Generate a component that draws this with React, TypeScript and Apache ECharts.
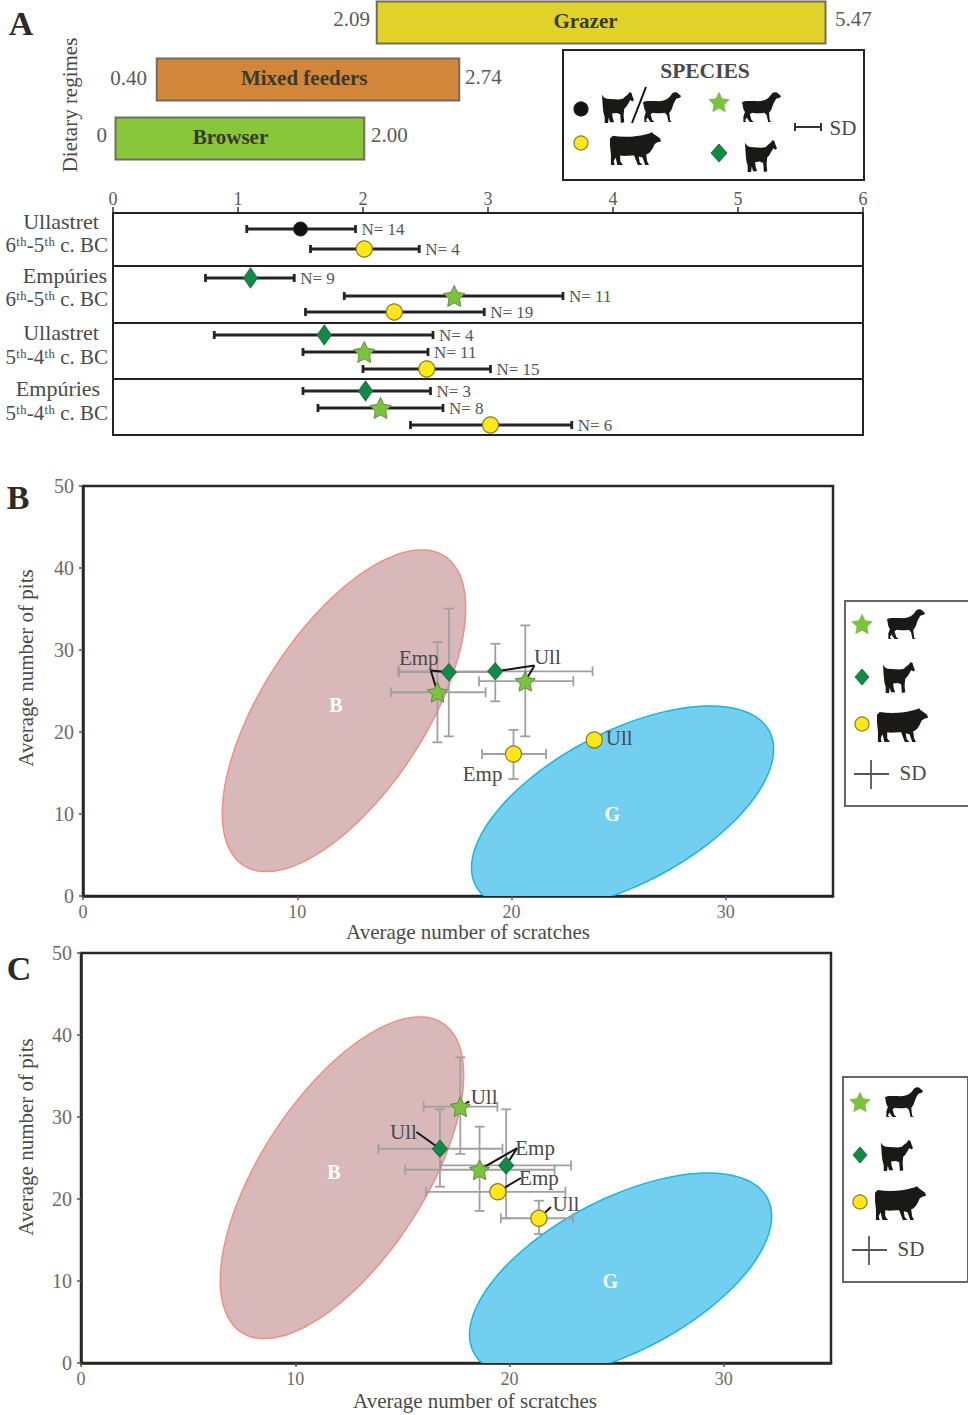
import React, { useEffect, useRef } from "react";
import * as echarts from "echarts";

const SERIF = '"Liberation Serif", "DejaVu Serif", serif';

// ---------- Panel A: dietary regimes ----------
const regimeNames = ["Grazer", "Mixed feeders", "Browser"];
const regimeStart = [2.11, 0.35, 0.02];
const regimeEnd = [5.70, 2.77, 2.01];
const regimeRow = [22.5, 79.5, 138.5];
const regimeNamePos = [3.78, 1.53, 0.94];
const regimeLowText = ["2.09", "0.40", "0"];
const regimeHighText = ["5.47", "2.74", "2.00"];
const regimeColors = ["#e0d228", "#d2863a", "#88c63a"];
const scoreTicks = [0, 1, 2, 3, 4, 5, 6];

// ---------- Panel A: per-site scores ----------
const aSpecies = ["pig", "cattle", "goat", "sheep", "cattle", "goat", "sheep", "cattle", "goat", "sheep", "cattle"];
const aMean = [1.50, 2.01, 1.10, 2.73, 2.25, 1.69, 2.01, 2.51, 2.02, 2.14, 3.02];
const aLow = [1.07, 1.58, 0.74, 1.85, 1.54, 0.81, 1.52, 2.00, 1.52, 1.64, 2.38];
const aHigh = [1.94, 2.45, 1.45, 3.60, 2.97, 2.56, 2.52, 3.02, 2.54, 2.64, 3.67];
const aRow = [16, 36, 65, 83, 99, 122, 139, 156, 178, 195, 212];
const aCounts = ["N= 14", "N= 4", "N= 9", "N= 11", "N= 19", "N= 4", "N= 11", "N= 15", "N= 3", "N= 8", "N= 6"];
const aSeparators = [53, 110, 166];
const siteNames = ["Ullastret", "Empúries", "Ullastret", "Empúries"];
const sitePeriods = ["6ᵗʰ-5ᵗʰ c. BC", "6ᵗʰ-5ᵗʰ c. BC", "5ᵗʰ-4ᵗʰ c. BC", "5ᵗʰ-4ᵗʰ c. BC"];

// ---------- Panels B, C: shared axes and reference ellipses ----------
const scratchTicks = [0, 10, 20, 30];
const browserEllipse = [12.18, 22.59, 5.68, 12.52, 15.1];
const grazerEllipse = [25.18, 10.67, 7.05, 7.22, 10.2];
const ellipseTags = ["B", "G"];
const ellipseTagX = [11.8, 24.7];
const ellipseTagY = [23.3, 10.0];

// ---------- Panel B ----------
const bSpecies = ["goat", "goat", "sheep", "sheep", "cattle", "cattle"];
const bX = [17.07, 19.24, 16.54, 20.64, 20.09, 23.86];
const bY = [27.3, 27.4, 24.85, 26.2, 17.32, 19.03];
const bXlo = [14.76, 14.7, 14.37, 18.48, 18.62, null];
const bXhi = [19.35, 23.78, 18.79, 22.88, 21.61, null];
const bYlo = [19.47, 23.74, 18.74, 19.47, 14.27, null];
const bYhi = [35.05, 30.76, 30.97, 33.0, 20.26, null];
const bTags = ["Emp", "Ull", "Ull", "Emp"];
const bTagX = [15.67, 21.67, 25.02, 18.65];
const bTagY = [28.97, 29.1, 19.3, 14.9];
const bLeaderFromX = [17.07, 16.54, 19.24, 20.64];
const bLeaderFromY = [27.3, 24.85, 27.4, 26.2];
const bLeaderToX = [16.23, 16.23, 21.07, 21.07];
const bLeaderToY = [27.5, 27.5, 28.1, 28.1];

// ---------- Panel C ----------
const cSpecies = ["sheep", "goat", "sheep", "goat", "cattle", "cattle"];
const cX = [17.7, 16.75, 18.6, 19.84, 19.45, 21.37];
const cY = [31.26, 26.13, 23.57, 24.1, 20.88, 17.65];
const cXlo = [15.99, 13.88, 15.13, 16.8, 16.1, 19.59];
const cXhi = [19.43, 19.67, 22.1, 22.87, 22.61, 22.96];
const cYlo = [25.49, 21.5, 18.54, 17.65, null, 15.73];
const cYhi = [37.28, 30.94, 28.82, 30.94, null, 19.79];
const cTags = ["Ull", "Ull", "Emp", "Emp", "Ull"];
const cTagX = [18.81, 15.05, 21.19, 21.37, 22.63];
const cTagY = [32.44, 28.17, 26.2, 22.56, 19.39];
const cLeaderFromX = [17.7, 16.75, 18.6, 19.84, 19.45, 21.37];
const cLeaderFromY = [31.26, 26.13, 23.57, 24.1, 20.88, 17.65];
const cLeaderToX = [18.12, 15.65, 20.35, 20.35, 20.53, 21.93];
const cLeaderToY = [31.9, 28.17, 26.2, 26.2, 22.56, 19.02];

// ---------- Shapes ----------
const STAR_D = "M50 0 L64.7 29.8 L97.6 34.5 L73.8 57.7 L79.4 90.5 L50 75 L20.6 90.5 L26.2 57.7 L2.4 34.5 L35.3 29.8 Z";
const LAMB_D =
  "M2 30 C8 24 20 26 34 26 C50 27 62 24 70 16 L78 6 C82 2 90 2 92 6 L100 13 L98 17 L88 20 C84 26 80 34 78 42 C76 50 72 54 70 56 L72 76 L76 80 L68 80 L64 62 L58 56 C48 58 38 58 28 56 L22 60 L26 74 L32 80 L22 80 L14 68 L10 76 L14 80 L6 80 L6 66 L10 54 C6 48 4 40 4 34 Z";
const GOAT_D =
  "M0 8 L6 16 L14 20 L50 22 L62 20 L68 14 L76 8 L82 0 L88 4 L90 12 L95 24 L90 28 L84 24 L78 34 L72 44 L66 50 L64 70 L66 90 L56 92 L54 66 L44 62 L30 64 L32 78 L36 90 L24 90 L20 76 L18 92 L8 92 L8 74 L4 60 L2 40 Z";
const COW_D =
  "M0 14 L6 8 C30 12 60 10 80 4 L88 2 L90 0 L94 4 L100 8 L108 14 L110 20 L102 22 L96 26 C92 36 86 46 78 48 L80 62 L84 70 L76 70 L70 54 L62 52 L64 64 L70 70 L60 70 L52 50 C40 50 30 52 22 50 L22 62 L28 70 L16 70 L12 54 L8 62 L10 70 L2 70 L2 48 L0 30 Z";

echarts.graphic.registerShape("starMark", echarts.graphic.extendPath(STAR_D, {}));
echarts.graphic.registerShape("lambSil", echarts.graphic.extendPath(LAMB_D, {}));
echarts.graphic.registerShape("goatSil", echarts.graphic.extendPath(GOAT_D, {}));
echarts.graphic.registerShape("cowSil", echarts.graphic.extendPath(COW_D, {}));

const STAR_FILL = "#7cc23c";
const STAR_EDGE = "#5f8a4a";
const DIA_FILL = "#0e8c45";
const DIA_EDGE = "#2c6a44";
const YEL_FILL = "#ffe81a";
const YEL_EDGE = "#8a7a20";
const INK = "#4a4a4a";

function mark(species: string, big: boolean) {
  if (species === "sheep")
    return {
      symbol: "path://" + STAR_D,
      symbolSize: big ? 21 : 20,
      itemStyle: { color: STAR_FILL, borderColor: STAR_EDGE, borderWidth: 1, opacity: 1 },
    };
  if (species === "goat")
    return {
      symbol: "diamond",
      symbolSize: big ? [14, 20] : [15, 17],
      itemStyle: { color: DIA_FILL, borderColor: DIA_EDGE, borderWidth: 1, opacity: 1 },
    };
  if (species === "pig")
    return { symbol: "circle", symbolSize: 14, itemStyle: { color: "#111", borderColor: "#222", borderWidth: 1, opacity: 1 } };
  return { symbol: "circle", symbolSize: 16, itemStyle: { color: YEL_FILL, borderColor: YEL_EDGE, borderWidth: 1.2, opacity: 1 } };
}

// ---------- Series factories ----------
function ellipseSeries(def: number[], fill: string, stroke: string, axis: number) {
  return {
    type: "custom",
    coordinateSystem: "cartesian2d",
    xAxisIndex: axis,
    yAxisIndex: axis,
    silent: true,
    clip: true,
    z: 1,
    data: [def],
    renderItem: (_p: any, api: any) => {
      const pts: number[][] = [];
      const cx = api.value(0), cy = api.value(1), ux = api.value(2), uy = api.value(3), vy = api.value(4);
      for (let i = 0; i < 120; i++) {
        const t = (i / 120) * 2 * Math.PI;
        pts.push(api.coord([cx + ux * Math.cos(t), cy + uy * Math.cos(t) + vy * Math.sin(t)]));
      }
      return { type: "polygon", shape: { points: pts }, style: { fill, stroke, lineWidth: 1.5 } };
    },
  };
}

function whiskerSeries(xs: number[], ys: number[], xlo: any[], xhi: any[], ylo: any[], yhi: any[], axis: number) {
  return {
    type: "custom",
    coordinateSystem: "cartesian2d",
    xAxisIndex: axis,
    yAxisIndex: axis,
    silent: true,
    z: 3,
    data: xs.map((x, i) => [x, ys[i], xlo[i], xhi[i], ylo[i], yhi[i]]),
    renderItem: (_p: any, api: any) => {
      const x = api.value(0), y = api.value(1);
      const style = { stroke: "#a0a0a0", lineWidth: 1.8 };
      const cap = 5;
      const kids: any[] = [];
      if (!isNaN(api.value(2))) {
        const a = api.coord([api.value(2), y]), b = api.coord([api.value(3), y]);
        kids.push({ type: "line", shape: { x1: a[0], y1: a[1], x2: b[0], y2: b[1] }, style });
        kids.push({ type: "line", shape: { x1: a[0], y1: a[1] - cap, x2: a[0], y2: a[1] + cap }, style });
        kids.push({ type: "line", shape: { x1: b[0], y1: b[1] - cap, x2: b[0], y2: b[1] + cap }, style });
      }
      if (!isNaN(api.value(4))) {
        const a = api.coord([x, api.value(4)]), b = api.coord([x, api.value(5)]);
        kids.push({ type: "line", shape: { x1: a[0], y1: a[1], x2: b[0], y2: b[1] }, style });
        kids.push({ type: "line", shape: { x1: a[0] - cap, y1: a[1], x2: a[0] + cap, y2: a[1] }, style });
        kids.push({ type: "line", shape: { x1: b[0] - cap, y1: b[1], x2: b[0] + cap, y2: b[1] }, style });
      }
      return { type: "group", children: kids };
    },
  };
}

function leaderSeries(fx: number[], fy: number[], tx: number[], ty: number[], axis: number) {
  return {
    type: "custom",
    coordinateSystem: "cartesian2d",
    xAxisIndex: axis,
    yAxisIndex: axis,
    silent: true,
    z: 4,
    data: fx.map((x, i) => [x, fy[i], tx[i], ty[i]]),
    renderItem: (_p: any, api: any) => {
      const a = api.coord([api.value(0), api.value(1)]), b = api.coord([api.value(2), api.value(3)]);
      return { type: "line", shape: { x1: a[0], y1: a[1], x2: b[0], y2: b[1] }, style: { stroke: "#151515", lineWidth: 2 } };
    },
  };
}

function tagSeries(tags: string[], xs: number[], ys: number[], axis: number, font: string, fill: string, z: number) {
  return {
    type: "custom",
    coordinateSystem: "cartesian2d",
    xAxisIndex: axis,
    yAxisIndex: axis,
    silent: true,
    z,
    data: xs.map((x, i) => [x, ys[i]]),
    renderItem: (p: any, api: any) => {
      const c = api.coord([api.value(0), api.value(1)]);
      return {
        type: "text",
        style: { text: tags[p.dataIndex], x: c[0], y: c[1], font, fill, align: "center", verticalAlign: "middle" },
      };
    },
  };
}

function pointSeries(species: string[], xs: number[], ys: number[], axis: number, big: boolean) {
  return {
    type: "scatter",
    xAxisIndex: axis,
    yAxisIndex: axis,
    silent: true,
    z: 6,
    data: xs.map((x, i) => ({ value: [x, ys[i]], ...mark(species[i], big) })),
  };
}

function scatterGrid(left: number, top: number, width: number, height: number) {
  return { left, top, width, height, show: true, borderColor: "#2a2626", borderWidth: 2.5, backgroundColor: "transparent" };
}

function scratchAxis(gridIndex: number) {
  return {
    type: "value",
    gridIndex,
    min: 0,
    max: 35,
    splitLine: { show: false },
    axisLine: { show: true, onZero: false, lineStyle: { color: "#2a2626", width: 2.5 } },
    axisTick: { show: true, length: 4, customValues: scratchTicks, lineStyle: { color: "#555", width: 1.5 } },
    axisLabel: { show: true, customValues: scratchTicks, margin: 7, color: "#6a6a6a", fontFamily: SERIF, fontSize: 18 },
  };
}

function pitAxis(gridIndex: number) {
  return {
    type: "value",
    gridIndex,
    min: 0,
    max: 50,
    interval: 10,
    splitLine: { show: false },
    axisLine: { show: true, onZero: false, lineStyle: { color: "#2a2626", width: 2.5 } },
    axisTick: { show: true, length: 4, lineStyle: { color: "#555", width: 1.5 } },
    axisLabel: { show: true, margin: 9, color: "#6a6a6a", fontFamily: SERIF, fontSize: 20 },
  };
}

// ---------- Graphic helpers ----------
function label(text: string, x: number, y: number, size: number, opts: any = {}) {
  return {
    type: "text",
    x,
    y,
    rotation: opts.rotation || 0,
    silent: true,
    style: {
      text,
      font: `${opts.bold ? "bold " : ""}${size}px ${SERIF}`,
      fill: opts.fill || INK,
      align: opts.align || "center",
      verticalAlign: "middle",
    },
  };
}

function silhouette(type: string, w: number, h: number, x0: number, y0: number, x1: number, y1: number) {
  return {
    type,
    x: x0,
    y: y0,
    scaleX: (x1 - x0) / w,
    scaleY: (y1 - y0) / h,
    silent: true,
    style: { fill: "#1b1818", stroke: "none" },
  };
}
const lamb = (a: number, b: number, c: number, d: number) => silhouette("lambSil", 100, 80, a, b, c, d);
const goat = (a: number, b: number, c: number, d: number) => silhouette("goatSil", 95, 92, a, b, c, d);
const cow = (a: number, b: number, c: number, d: number) => silhouette("cowSil", 110, 70, a, b, c, d);

function starAt(cx: number, cy: number, r: number) {
  return {
    type: "starMark",
    x: cx - r,
    y: cy - r,
    scaleX: (2 * r) / 100,
    scaleY: (2 * r) / 100,
    silent: true,
    style: { fill: STAR_FILL, stroke: STAR_EDGE, lineWidth: 1 },
  };
}
function diamondAt(cx: number, cy: number, w: number, h: number) {
  return {
    type: "polygon",
    silent: true,
    shape: { points: [[cx, cy - h], [cx + w, cy], [cx, cy + h], [cx - w, cy]] },
    style: { fill: DIA_FILL, stroke: DIA_EDGE, lineWidth: 1 },
  };
}
function dotAt(cx: number, cy: number, r: number, fill: string, stroke: string) {
  return { type: "circle", silent: true, shape: { cx, cy, r }, style: { fill, stroke, lineWidth: 1.2 } };
}
function seg(x1: number, y1: number, x2: number, y2: number, stroke: string, lineWidth: number) {
  return { type: "line", silent: true, shape: { x1, y1, x2, y2 }, style: { stroke, lineWidth } };
}

function sideLegend(ox: number, oy: number, shift: number) {
  const m = oy + shift;
  return [
    { type: "rect", silent: true, shape: { x: ox, y: oy, width: 125, height: 205 }, style: { fill: "#fff", stroke: "#666", lineWidth: 2 } },
    starAt(ox + 17, m + 24, 11),
    lamb(ox + 41, m + 7, ox + 80, m + 38),
    diamondAt(ox + 17, m + 76, 7, 8),
    goat(ox + 38, m + 61, ox + 70, m + 92),
    dotAt(ox + 17, m + 123, 7, YEL_FILL, YEL_EDGE),
    cow(ox + 32, m + 107, ox + 83, m + 141),
    seg(ox + 9, oy + 173, ox + 44, oy + 173, "#555", 1.8),
    seg(ox + 26, oy + 159, ox + 26, oy + 188, "#555", 1.8),
    label("SD", ox + 68, oy + 172, 21),
  ];
}

const graphicElements: any[] = [
  label("A", 21, 23, 34, { bold: true, fill: "#2a2a2a" }),
  label("B", 18, 497, 34, { bold: true, fill: "#2a2a2a" }),
  label("C", 19, 968, 34, { bold: true, fill: "#2a2a2a" }),
  label("Dietary regimes", 70, 105, 21, { rotation: Math.PI / 2 }),
  ...regimeLowText.map((t, i) => label(t, [370, 147, 107][i], [19, 78, 135][i], 21, { align: "right", fill: "#5a5a5a" })),
  ...regimeHighText.map((t, i) => label(t, [835, 465, 371][i], [19, 77, 135][i], 21, { align: "left", fill: "#5a5a5a" })),
  ...siteNames.map((t, i) => label(t, [61, 65, 61, 58][i], [221, 275, 332, 388][i], 22)),
  ...sitePeriods.map((t, i) => label(t, 108, [245, 299, 357, 413][i], 21, { align: "right" })),
  { type: "rect", silent: true, shape: { x: 563, y: 50, width: 301, height: 130 }, style: { fill: "#fff", stroke: "#222", lineWidth: 2 } },
  label("SPECIES", 705, 71, 21.5, { bold: true }),
  dotAt(581, 109, 7, "#111", "#222"),
  goat(602, 92, 634, 123),
  seg(646, 87, 632, 123, "#111", 2),
  lamb(642, 91, 681, 122),
  starAt(719, 103, 11),
  lamb(741, 91, 781, 122),
  dotAt(581, 143, 7, YEL_FILL, YEL_EDGE),
  cow(610, 132, 661, 165),
  diamondAt(719, 153, 8, 9),
  goat(745, 140, 777, 172),
  seg(795, 127, 821, 127, "#333", 2),
  seg(795, 123, 795, 131, "#333", 2),
  seg(821, 123, 821, 131, "#333", 2),
  label("SD", 843, 128, 21),
  label("Average number of pits", 26, 668, 21, { rotation: Math.PI / 2 }),
  label("Average number of scratches", 468, 932, 21),
  label("Average number of pits", 26, 1137, 21, { rotation: Math.PI / 2 }),
  label("Average number of scratches", 475, 1401, 21),
  ...sideLegend(845, 601, 0),
  ...sideLegend(843, 1077, 2),
];

const option: any = {
  animation: false,
  backgroundColor: "#fff",
  grid: [
    { left: 113, top: 0, width: 750, height: 165, show: false },
    { left: 113, top: 213, width: 750, height: 222, show: true, borderColor: "#222", borderWidth: 2, backgroundColor: "transparent" },
    scatterGrid(83, 486, 750, 410),
    scatterGrid(81, 953, 750, 410),
  ],
  xAxis: [
    { type: "value", gridIndex: 0, min: 0, max: 6, show: false },
    {
      type: "value",
      gridIndex: 1,
      min: 0,
      max: 6,
      interval: 1,
      position: "top",
      splitLine: { show: false },
      axisLine: { show: true, lineStyle: { color: "#222", width: 2 } },
      axisTick: { show: true, length: 6, inside: false, lineStyle: { color: "#333", width: 1.5 } },
      axisLabel: { show: true, margin: 5, color: "#5a5a5a", fontFamily: SERIF, fontSize: 18, customValues: scoreTicks },
    },
    scratchAxis(2),
    scratchAxis(3),
  ],
  yAxis: [
    { type: "value", gridIndex: 0, min: 0, max: 165, inverse: true, show: false },
    { type: "value", gridIndex: 1, min: 0, max: 222, inverse: true, show: false },
    pitAxis(2),
    pitAxis(3),
  ],
  graphic: { elements: graphicElements },
  series: [
    // regime bars
    {
      type: "custom",
      coordinateSystem: "cartesian2d",
      xAxisIndex: 0,
      yAxisIndex: 0,
      silent: true,
      data: regimeNames.map((_, i) => [regimeStart[i], regimeRow[i], regimeEnd[i], regimeNamePos[i]]),
      renderItem: (p: any, api: any) => {
        const i = p.dataIndex;
        const a = api.coord([api.value(0), api.value(1)]);
        const b = api.coord([api.value(2), api.value(1)]);
        const t = api.coord([api.value(3), api.value(1)]);
        const h = 42;
        return {
          type: "group",
          children: [
            {
              type: "rect",
              shape: { x: a[0], y: a[1] - h / 2, width: b[0] - a[0], height: h },
              style: { fill: regimeColors[i], stroke: "#6e6e60", lineWidth: 2 },
            },
            {
              type: "text",
              style: {
                text: regimeNames[i],
                x: t[0],
                y: t[1] - 1.5,
                font: `bold 21px ${SERIF}`,
                fill: "#3a3a2c",
                align: "center",
                verticalAlign: "middle",
              },
            },
          ],
        };
      },
    },
    // separators between site blocks
    {
      type: "custom",
      coordinateSystem: "cartesian2d",
      xAxisIndex: 1,
      yAxisIndex: 1,
      silent: true,
      z: 2,
      data: aSeparators.map((y) => [0, y]),
      renderItem: (_p: any, api: any) => {
        const a = api.coord([0, api.value(1)]);
        const b = api.coord([6, api.value(1)]);
        return { type: "line", shape: { x1: a[0], y1: a[1], x2: b[0], y2: b[1] }, style: { stroke: "#222", lineWidth: 2 } };
      },
    },
    // panel A whiskers + N labels
    {
      type: "custom",
      coordinateSystem: "cartesian2d",
      xAxisIndex: 1,
      yAxisIndex: 1,
      silent: true,
      z: 3,
      data: aMean.map((m, i) => [m, aRow[i], aLow[i], aHigh[i]]),
      renderItem: (p: any, api: any) => {
        const a = api.coord([api.value(2), api.value(1)]);
        const b = api.coord([api.value(3), api.value(1)]);
        const style = { stroke: "#242424", lineWidth: 2.8 };
        return {
          type: "group",
          children: [
            { type: "line", shape: { x1: a[0], y1: a[1], x2: b[0], y2: b[1] }, style },
            { type: "line", shape: { x1: a[0], y1: a[1] - 4, x2: a[0], y2: a[1] + 4 }, style },
            { type: "line", shape: { x1: b[0], y1: b[1] - 4, x2: b[0], y2: b[1] + 4 }, style },
            {
              type: "text",
              style: {
                text: aCounts[p.dataIndex],
                x: b[0] + 6,
                y: b[1],
                font: `17px ${SERIF}`,
                fill: "#555",
                align: "left",
                verticalAlign: "middle",
              },
            },
          ],
        };
      },
    },
    pointSeries(aSpecies, aMean, aRow, 1, true),

    // panel B
    ellipseSeries(browserEllipse, "#d9b8b9", "#ef8f80", 2),
    ellipseSeries(grazerEllipse, "#72cff0", "#1ab4da", 2),
    tagSeries(ellipseTags, ellipseTagX, ellipseTagY, 2, `bold 20px ${SERIF}`, "#fff", 2),
    whiskerSeries(bX, bY, bXlo, bXhi, bYlo, bYhi, 2),
    leaderSeries(bLeaderFromX, bLeaderFromY, bLeaderToX, bLeaderToY, 2),
    tagSeries(bTags, bTagX, bTagY, 2, `21px ${SERIF}`, INK, 5),
    pointSeries(bSpecies, bX, bY, 2, false),

    // panel C
    ellipseSeries(browserEllipse, "#d9b8b9", "#ef8f80", 3),
    ellipseSeries(grazerEllipse, "#72cff0", "#1ab4da", 3),
    tagSeries(ellipseTags, ellipseTagX, ellipseTagY, 3, `bold 20px ${SERIF}`, "#fff", 2),
    whiskerSeries(cX, cY, cXlo, cXhi, cYlo, cYhi, 3),
    leaderSeries(cLeaderFromX, cLeaderFromY, cLeaderToX, cLeaderToY, 3),
    tagSeries(cTags, cTagX, cTagY, 3, `21px ${SERIF}`, INK, 5),
    pointSeries(cSpecies, cX, cY, 3, false),
  ],
};

export default function App() {
  const ref = useRef<HTMLDivElement>(null);
  useEffect(() => {
    document.body.style.margin = "0";
    const chart = echarts.init(ref.current!, null, { renderer: "svg" });
    chart.setOption(option);
    return () => chart.dispose();
  }, []);
  return <div ref={ref} style={{ width: 968, height: 1415 }} />;
}
